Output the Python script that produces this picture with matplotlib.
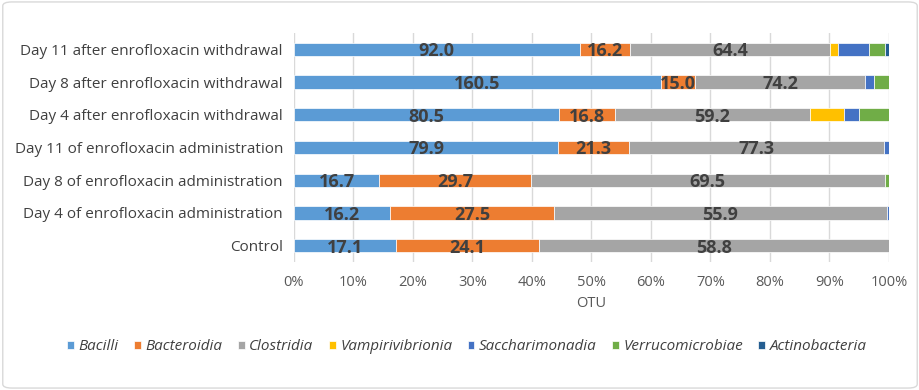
import matplotlib
matplotlib.use('Agg')
import matplotlib.pyplot as plt
import numpy as np
from matplotlib.patches import FancyBboxPatch

plt.rcParams['font.family'] = ['Open Sans', 'DejaVu Sans']

# samples, bottom to top
samples = ['Control',
           'Day 4 of enrofloxacin administration',
           'Day 8 of enrofloxacin administration',
           'Day 11 of enrofloxacin administration',
           'Day 4 after enrofloxacin withdrawal',
           'Day 8 after enrofloxacin withdrawal',
           'Day 11 after enrofloxacin withdrawal']

classes = ['Bacilli', 'Bacteroidia', 'Clostridia', 'Vampirivibrionia',
           'Saccharimonadia', 'Verrucomicrobiae', 'Actinobacteria']

# OTU counts per class (labelled values read off, small ones estimated)
bacilli = [17.1, 16.2, 16.7, 79.9, 80.5, 160.5, 92.0]
bacteroidia = [24.1, 27.5, 29.7, 21.3, 16.8, 15.0, 16.2]
clostridia = [58.8, 55.9, 69.5, 77.3, 59.2, 74.2, 64.4]
vampirivibrionia = [0.0, 0.0, 0.0, 0.0, 10.3, 0.0, 2.5]
saccharimonadia = [0.0, 0.4, 0.0, 1.5, 4.7, 3.9, 10.0]
verrucomicrobiae = [0.0, 0.0, 0.8, 0.0, 9.0, 6.5, 5.2]
actinobacteria = [0.0, 0.0, 0.0, 0.0, 0.0, 0.0, 1.3]

series = [bacilli, bacteroidia, clostridia, vampirivibrionia,
          saccharimonadia, verrucomicrobiae, actinobacteria]
colors = ['#5B9BD5', '#ED7D31', '#A5A5A5', '#FFC000',
          '#4472C4', '#70AD47', '#255E91']

data = np.array(series)
totals = data.sum(axis=0)
shares = data / totals

fig = plt.figure(figsize=(9.2, 3.9), dpi=100)
ax = fig.add_axes([294 / 920, 1 - 262 / 390, 595 / 920, 229 / 390])

y = np.arange(len(samples))
left = np.zeros(len(samples))
for i, (name, col) in enumerate(zip(classes, colors)):
    ax.barh(y, shares[i], left=left, height=0.41, color=col, label=name,
            edgecolor='white', linewidth=0.5, zorder=3)
    if i < 3:
        for j in range(len(samples)):
            ax.text(left[j] + shares[i][j] / 2, y[j] - 0.06, '%.1f' % data[i][j],
                    ha='center', va='center', fontsize=13, fontweight='bold',
                    color='#404040', zorder=4)
    left += shares[i]

ax.set_xlim(0, 1)
ax.set_ylim(-0.5, len(samples) - 0.5)
ax.set_yticks(y)
ax.set_yticklabels(samples, fontsize=11, color='#404040')
ax.set_xticks(np.linspace(0, 1, 11))
ax.set_xticklabels(['%d%%' % p for p in range(0, 101, 10)], fontsize=10.5, color='#595959')
ax.tick_params(length=0, pad=8)
ax.tick_params(axis='x', pad=9)
ax.grid(axis='x', color='#D9D9D9', linewidth=1, zorder=0)
for s in ax.spines.values():
    s.set_visible(False)
ax.set_xlabel('OTU', fontsize=10.5, color='#595959', labelpad=5)

leg = fig.legend(loc='center', bbox_to_anchor=(467 / 920, 1 - 347 / 390), ncol=7,
                 frameon=False, handlelength=0.45, handleheight=0.45,
                 handletextpad=0.3, columnspacing=1.0,
                 prop={'style': 'italic', 'size': 11})
for t in leg.get_texts():
    t.set_color('#404040')

fig.patches.append(FancyBboxPatch((0.003, 0.005), 0.994, 0.99,
                                  boxstyle='round,pad=0,rounding_size=0.01',
                                  transform=fig.transFigure, fill=False,
                                  edgecolor='#D9D9D9', linewidth=1))

plt.savefig('out.png', dpi=100)
plt.close()
